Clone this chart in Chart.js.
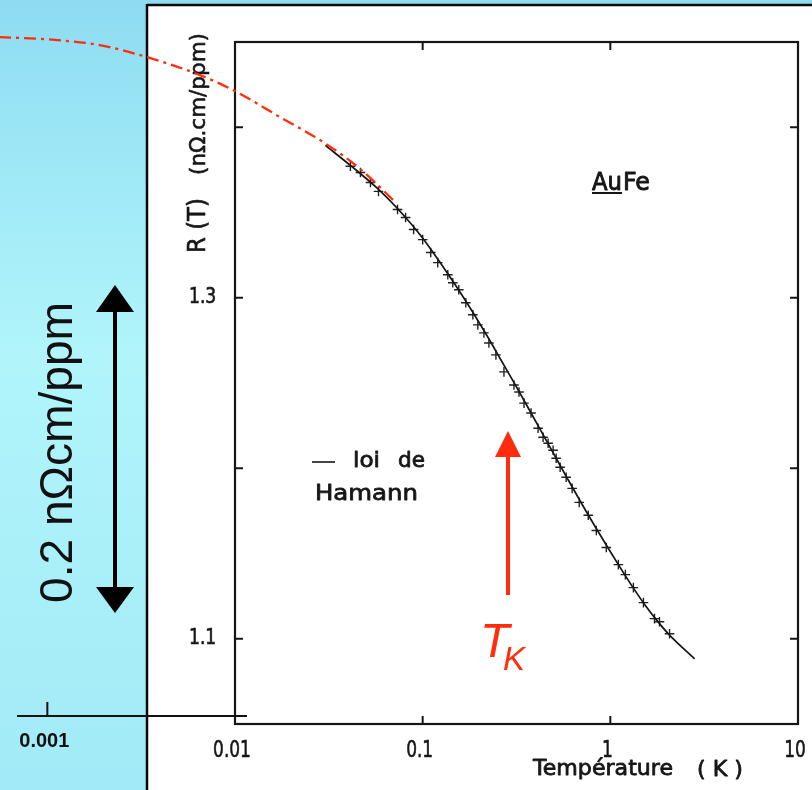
<!DOCTYPE html>
<html>
<head>
<meta charset="utf-8">
<script src="https://cdn.jsdelivr.net/npm/chart.js@4.4.1/dist/chart.umd.min.js"></script>
<style>
html,body{margin:0;padding:0;background:#fff;}
canvas{display:block;}
</style>
</head>
<body>
<canvas id="c" width="812" height="790"></canvas>
<script>
// ---------- data ----------
// Temperature (K) and R(T) (nΩ.cm/ppm)
const measT = [0.04121,0.04661,0.05271,0.05816,0.07348,0.0811,0.0895,0.1,0.1104,0.1203,0.1361,0.1447,0.1558,0.1698,0.1851,0.1968,0.212,0.2254,0.2456,0.2711,0.3066,0.3261,0.3468,0.378,0.4121,0.4383,0.4661,0.4956,0.5143,0.5403,0.5816,0.626,0.6826,0.7627,0.8418,0.9519,1.1036,1.2027,1.3274,1.5014,1.7195,1.8281,2.0679];
const measR = [1.3771,1.3735,1.3676,1.3624,1.3518,1.3471,1.3400,1.3341,1.3265,1.3206,1.3135,1.3088,1.3047,1.2971,1.2900,1.2841,1.2794,1.2735,1.2665,1.2565,1.2488,1.2447,1.2382,1.2324,1.2235,1.2182,1.2147,1.2106,1.2059,1.2006,1.1947,1.1882,1.1800,1.1724,1.1635,1.1535,1.1435,1.1376,1.1300,1.1212,1.1118,1.1100,1.1029];

const hamannT = [0.0303,0.04121,0.05745,0.0811,0.09757,0.1218,0.174,0.2227,0.2613,0.3143,0.378,0.4835,0.5961,0.7627,1.1036,1.3437,1.5196,1.8058,2.0679,2.813];
const hamannR = [1.3894,1.3776,1.3641,1.3471,1.3365,1.3218,1.2962,1.2768,1.2635,1.2482,1.2324,1.2112,1.1932,1.1726,1.1435,1.1288,1.1203,1.1096,1.1021,1.0882];

const extrapT = [0.000553,0.001026,0.001897,0.00338,0.0065,0.01,0.01742,0.0303,0.04656,0.0718];
const extrapR = [1.4529,1.4515,1.4482,1.4412,1.4306,1.4212,1.4059,1.3905,1.3755,1.3559];

const xTickValues = [0.01, 0.1, 1, 10];
const xTickLabels = ['0.01', '0.1', '1', '10'];
const xInnerTicks = [0.1, 1];
const yTickValues = [1.1, 1.2, 1.3, 1.4];
const yTickLabels = ['1.1', '', '1.3', ''];
const extraTickValue = 0.001;
const extraTickLabel = '0.001';

// ---------- layout ----------
const W = 812, H = 790;
const FR = {left: 235, right: 798, top: 42, bottom: 724};
const XD = [0.01, 10], YD = [1.05, 1.45];
const ppd = (FR.right - FR.left) / (Math.log10(XD[1]) - Math.log10(XD[0]));
const xMin = Math.pow(10, Math.log10(XD[0]) - FR.left / ppd);
const xMax = Math.pow(10, Math.log10(XD[1]) + (W - FR.right) / ppd);
const ppu = (FR.bottom - FR.top) / (YD[1] - YD[0]);
const yMax = YD[1] + FR.top / ppu;
const yMin = YD[0] - (H - FR.bottom) / ppu;

const INK = '#161616';
const RED = '#ff2d0c';
const SCAN_FONT = '"DejaVu Sans", sans-serif';

function txt(ctx, s, x, y, o) {
  ctx.save();
  ctx.font = o.font;
  ctx.fillStyle = o.color || INK;
  ctx.strokeStyle = o.color || INK;
  ctx.textBaseline = 'alphabetic';
  ctx.translate(x, y);
  if (o.rot) ctx.rotate(o.rot);
  const w = ctx.measureText(s).width;
  let sx = o.sx || 1;
  if (o.width) sx = o.width / w;
  ctx.scale(sx, 1);
  let dx = 0;
  if (o.align === 'center') dx = -w / 2;
  else if (o.align === 'right') dx = -w;
  ctx.fillText(s, dx, 0);
  if (o.thick) {
    ctx.lineWidth = o.thick;
    ctx.lineJoin = 'round';
    ctx.strokeText(s, dx, 0);
  }
  ctx.restore();
}

function line(ctx, x1, y1, x2, y2, w, c) {
  ctx.save();
  ctx.strokeStyle = c || INK;
  ctx.lineWidth = w;
  ctx.beginPath();
  ctx.moveTo(x1, y1);
  ctx.lineTo(x2, y2);
  ctx.stroke();
  ctx.restore();
}

function tri(ctx, x1, y1, x2, y2, x3, y3, c) {
  ctx.save();
  ctx.fillStyle = c;
  ctx.beginPath();
  ctx.moveTo(x1, y1); ctx.lineTo(x2, y2); ctx.lineTo(x3, y3);
  ctx.closePath();
  ctx.fill();
  ctx.restore();
}

const decor = {
  id: 'decor',
  beforeDraw(chart) {
    const ctx = chart.ctx;
    ctx.save();
    const g = ctx.createLinearGradient(0, 0, 0, H);
    g.addColorStop(0, '#8edcf2');
    g.addColorStop(0.45, '#b1f5fb');
    g.addColorStop(1, '#a2eaf7');
    ctx.fillStyle = g;
    ctx.fillRect(0, 0, W, H);
    ctx.fillStyle = '#ffffff';
    ctx.fillRect(147, 5, W - 147, H - 5);
    ctx.restore();
    line(ctx, 147, 5, W, 5, 2.5, '#0a0a0a');
    line(ctx, 147, 4, 147, H, 2.5, '#0a0a0a');
  },
  beforeDatasetsDraw(chart) {
    const ctx = chart.ctx;
    const xs = chart.scales.x, ys = chart.scales.y;
    const L = xs.getPixelForValue(XD[0]), R = xs.getPixelForValue(XD[1]);
    const T = ys.getPixelForValue(YD[1]), B = ys.getPixelForValue(YD[0]);
    ctx.save();
    ctx.strokeStyle = INK;
    ctx.lineWidth = 2.2;
    ctx.strokeRect(L, T, R - L, B - T);
    ctx.restore();
    const sf = '22px ' + SCAN_FONT;
    // y ticks (inward, both sides)
    yTickValues.forEach((v, i) => {
      const y = ys.getPixelForValue(v);
      line(ctx, L, y, L + 8, y, 2);
      line(ctx, R - 8, y, R, y, 2);
      if (yTickLabels[i]) txt(ctx, yTickLabels[i], 189, y + 5, {font: sf, sx: 0.78, thick: 0.7});
    });
    // x ticks (inward, top and bottom)
    xInnerTicks.forEach(v => {
      const x = xs.getPixelForValue(v);
      line(ctx, x, T, x, T + 8, 2);
      line(ctx, x, B - 8, x, B, 2);
    });
    xTickValues.forEach((v, i) => {
      const x = xs.getPixelForValue(v);
      txt(ctx, xTickLabels[i], x - 3, 757, {font: '23px ' + SCAN_FONT, sx: 0.74, align: 'center', thick: 0.6});
    });
    // axis titles
    txt(ctx, 'Température', 533, 775, {font: '22px ' + SCAN_FONT, width: 140, thick: 0.8});
    txt(ctx, '( K )', 697, 776, {font: '22px ' + SCAN_FONT, width: 46, thick: 0.8});
    txt(ctx, 'R (T)', 205, 253, {font: '24px ' + SCAN_FONT, width: 55, rot: -Math.PI / 2, thick: 0.6});
    txt(ctx, '(nΩ.cm/ppm)', 205, 175, {font: '22px ' + SCAN_FONT, width: 142, rot: -Math.PI / 2, thick: 0.6});
    // AuFe
    txt(ctx, 'Au', 592, 190, {font: '24px ' + SCAN_FONT, width: 30, thick: 0.9});
    txt(ctx, 'Fe', 623, 190, {font: '24px ' + SCAN_FONT, width: 27, thick: 0.9});
    line(ctx, 592, 193, 622, 193, 2);
    // legend
    line(ctx, 312, 462, 335, 462, 1.6);
    txt(ctx, 'loi', 353, 467, {font: '22px ' + SCAN_FONT, width: 27, thick: 0.8});
    txt(ctx, 'de', 398, 467, {font: '22px ' + SCAN_FONT, width: 27, thick: 0.8});
    txt(ctx, 'Hamann', 315, 500, {font: '22px ' + SCAN_FONT, width: 103, thick: 0.8});
    // extra axis with 0.001
    const xe = xs.getPixelForValue(extraTickValue);
    line(ctx, 17, 716, 247, 716, 2, '#111');
    line(ctx, xe, 702, xe, 716, 2, '#111');
    txt(ctx, extraTickLabel, xe - 3, 747, {font: 'bold 20px "Liberation Sans", Arial, sans-serif', align: 'center', color: '#111'});
  },
  afterDraw(chart) {
    const ctx = chart.ctx;
    // black double arrow
    line(ctx, 115, 308, 115, 590, 4, '#000');
    tri(ctx, 115, 285, 96, 312, 134, 312, '#000');
    tri(ctx, 115, 613, 96, 587, 134, 587, '#000');
    txt(ctx, '0.2 nΩcm/ppm', 72, 603, {font: '47px "Liberation Sans", Arial, sans-serif', width: 301, rot: -Math.PI / 2, color: '#111'});
    // red arrow T_K
    line(ctx, 508, 454, 508, 595, 4, RED);
    tri(ctx, 508, 431, 495, 457, 521, 457, RED);
    txt(ctx, 'T', 480, 657, {font: 'italic 48px "Liberation Sans", Arial, sans-serif', color: RED});
    txt(ctx, 'K', 503, 670, {font: 'italic 33px "Liberation Sans", Arial, sans-serif', color: RED});
  }
};

const pts = (xs, ys) => xs.map((x, i) => ({x: x, y: ys[i]}));

new Chart(document.getElementById('c'), {
  type: 'line',
  data: {
    datasets: [
      {
        label: 'extrapolation',
        data: pts(extrapT, extrapR),
        borderColor: RED,
        borderWidth: 2.3,
        borderDash: [12, 5, 3, 5],
        pointRadius: 0,
        cubicInterpolationMode: 'monotone',
        fill: false
      },
      {
        label: 'loi de Hamann',
        data: pts(hamannT, hamannR),
        borderColor: INK,
        borderWidth: 1.7,
        pointRadius: 0,
        cubicInterpolationMode: 'monotone',
        fill: false
      },
      {
        label: 'mesures',
        data: pts(measT, measR),
        showLine: false,
        pointStyle: 'cross',
        pointRadius: 4.8,
        borderColor: '#222',
        borderWidth: 1.4,
        backgroundColor: '#222'
      }
    ]
  },
  options: {
    responsive: false,
    animation: false,
    devicePixelRatio: 1,
    events: [],
    layout: {padding: 0, autoPadding: false},
    plugins: {legend: {display: false}, tooltip: {enabled: false}, title: {display: false}},
    scales: {
      x: {type: 'logarithmic', min: xMin, max: xMax, display: false},
      y: {type: 'linear', min: yMin, max: yMax, display: false}
    }
  },
  plugins: [decor]
});
</script>
</body>
</html>
